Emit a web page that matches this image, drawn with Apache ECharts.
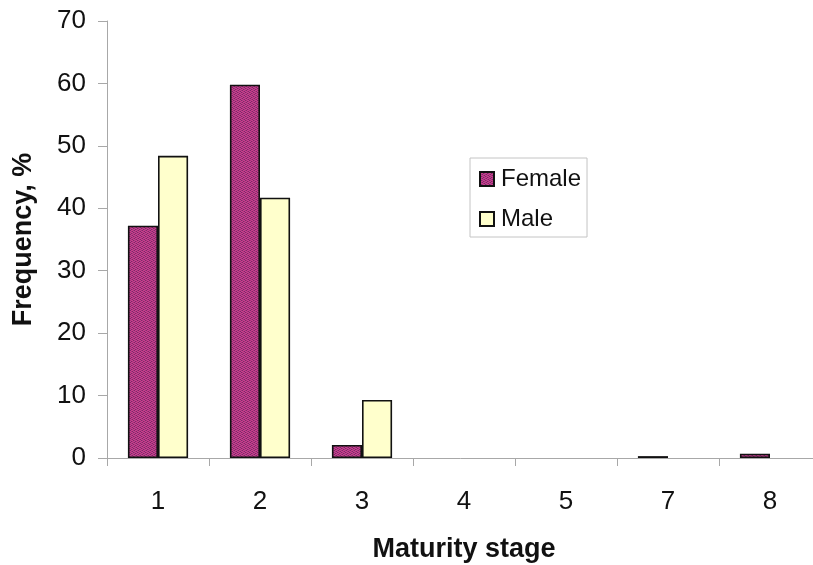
<!DOCTYPE html>
<html>
<head>
<meta charset="utf-8">
<title>Maturity stage frequency</title>
<script src="https://cdn.jsdelivr.net/npm/echarts@6/dist/echarts.min.js"></script>
<style>
  html, body { margin: 0; padding: 0; background: #ffffff; overflow: hidden; }
  #chart { width: 813px; height: 565px; }
</style>
</head>
<body>
<div id="chart"></div>
<script>
// Maturity stages on the category axis
const stages = ['1', '2', '3', '4', '5', '7', '8'];
// Frequency (%) per stage
const female = [37.2, 59.8, 2.1, 0, 0, 0.3, 0.7];
const male = [48.4, 41.7, 9.3, 0, 0, 0, 0];
// Value axis ticks
const yTicks = [0, 10, 20, 30, 40, 50, 60, 70];

const FONT = '"Liberation Sans", Arial, Helvetica, sans-serif';

// Speckled magenta texture for the female bars
function makeSpeckle() {
  const c = document.createElement('canvas');
  c.width = 4; c.height = 4;
  const ctx = c.getContext('2d');
  const light = '#c83e8c', dark = '#7a2a6a', mid = '#a2367c';
  const grid = [
    [light, dark, mid, light],
    [mid, light, light, dark],
    [light, mid, dark, light],
    [dark, light, light, mid]
  ];
  for (let y = 0; y < 4; y++) {
    for (let x = 0; x < 4; x++) {
      ctx.fillStyle = grid[y][x];
      ctx.fillRect(x, y, 1, 1);
    }
  }
  return c;
}
const femaleFill = { image: makeSpeckle(), repeat: 'repeat' };
const maleFill = '#ffffcc';

// Empty categories get no outline so nothing is drawn on the axis
function toItems(values) {
  return values.map(v => v === 0 ? { value: v, itemStyle: { borderWidth: 0 } } : v);
}

const chart = echarts.init(document.getElementById('chart'), null, { renderer: 'canvas' });

chart.setOption({
  backgroundColor: '#ffffff',
  animation: false,
  // The plot runs a little past the right edge of the canvas
  grid: {
    left: 107, width: 714, top: 21, bottom: 107,
    containLabel: false,
    outerBoundsMode: 'none'
  },
  legend: {
    orient: 'vertical',
    left: 470,
    top: 158,
    padding: [9, 6, 6, 9],
    borderColor: '#c4c4c4',
    borderWidth: 1,
    itemWidth: 14,
    itemHeight: 14,
    itemGap: 16,
    icon: 'rect',
    textStyle: { fontFamily: FONT, fontSize: 24, color: '#111', padding: [0, 0, 0, 2] },
    data: ['Female', 'Male']
  },
  xAxis: {
    type: 'category',
    data: stages,
    boundaryGap: true,
    name: 'Maturity stage',
    nameLocation: 'middle',
    nameGap: 78,
    nameTextStyle: { fontFamily: FONT, fontSize: 27, fontWeight: 'bold', color: '#111' },
    axisLine: { lineStyle: { color: '#a8a8a8', width: 1 } },
    axisTick: { show: true, length: 8, alignWithLabel: false, lineStyle: { color: '#a8a8a8' } },
    axisLabel: { fontFamily: FONT, fontSize: 26, color: '#111', margin: 31 },
    splitLine: { show: false }
  },
  yAxis: {
    type: 'value',
    min: yTicks[0],
    max: yTicks[yTicks.length - 1],
    interval: yTicks[1] - yTicks[0],
    name: 'Frequency, %',
    nameLocation: 'middle',
    nameRotate: 90,
    nameGap: 70,
    nameTextStyle: { fontFamily: FONT, fontSize: 27, fontWeight: 'bold', color: '#111' },
    axisLine: { show: true, lineStyle: { color: '#a8a8a8', width: 1 } },
    axisTick: { show: true, length: 9, lineStyle: { color: '#a8a8a8' } },
    axisLabel: { fontFamily: FONT, fontSize: 26, color: '#111', margin: 21 },
    splitLine: { show: false }
  },
  series: [
    {
      name: 'Female',
      type: 'bar',
      data: toItems(female),
      barGap: '0%',
      barCategoryGap: '41%',
      itemStyle: { color: femaleFill, borderColor: '#111', borderWidth: 1.6 }
    },
    {
      name: 'Male',
      type: 'bar',
      data: toItems(male),
      barGap: '0%',
      barCategoryGap: '41%',
      itemStyle: { color: maleFill, borderColor: '#111', borderWidth: 1.6 }
    }
  ]
});
</script>
</body>
</html>
